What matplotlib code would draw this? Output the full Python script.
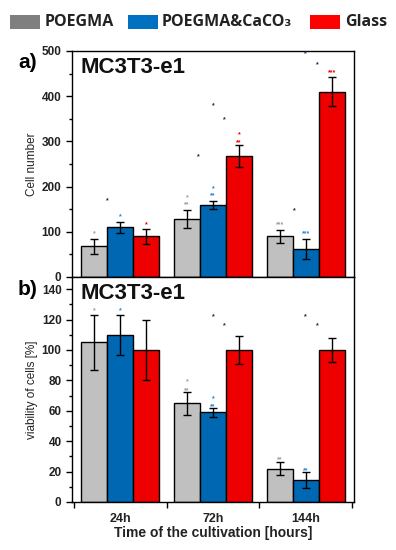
import matplotlib
matplotlib.use("Agg")
import matplotlib.pyplot as plt
from matplotlib.patches import Rectangle
import numpy as np

plt.rcParams["font.family"] = ["Liberation Sans", "DejaVu Sans"]

# ===== 数据 =====
times = ["24h", "72h", "144h"]
series = ["POEGMA", "POEGMA&CaCO₃", "Glass"]

cell_poegma = [68, 128, 90]
cell_poegma_err = [17, 20, 15]
cell_caco3 = [110, 160, 62]
cell_caco3_err = [12, 9, 22]
cell_glass = [90, 267, 410]
cell_glass_err = [17, 24, 32]

via_poegma = [105, 65, 22]
via_poegma_err = [18, 7.5, 4]
via_caco3 = [110, 59, 14.5]
via_caco3_err = [13, 3, 5.5]
via_glass = [100, 100, 100]
via_glass_err = [20, 9, 8]

# 显著性标记: (组, 相对柱宽偏移, y, 文本, 颜色键)
cell_marks = [
    (0, -1, 95, "*", "g"), (0, -0.5, 168, "*", "k"), (0, 0, 133, "*", "b"), (0, 1, 116, "*", "r"),
    (1, -1, 175, "*", "g"), (1, -1, 159, "**", "g"), (1, -0.55, 266, "*", "k"),
    (1, 0, 195, "*", "b"), (1, 0, 179, "**", "b"), (1, 0, 378, "*", "k"), (1, 0.45, 348, "*", "k"),
    (1, 1, 315, "*", "r"), (1, 1, 298, "**", "r"),
    (2, -1, 116, "***", "g"), (2, -0.45, 146, "*", "k"), (2, 0, 95, "***", "b"),
    (2, 0, 494, "*", "k"), (2, 0.45, 470, "*", "k"), (2, 1, 452, "***", "r"),
]
via_marks = [
    (0, -1, 126, "*", "g"), (0, 0, 126, "*", "b"),
    (1, 0, 122, "*", "k"), (1, 0.45, 116, "*", "k"),
    (1, -1, 79, "*", "g"), (1, -1, 73, "**", "g"), (1, 0, 68, "*", "b"), (1, 0, 62.5, "**", "b"),
    (2, 0, 122, "*", "k"), (2, 0.45, 116, "*", "k"),
    (2, -1, 27.5, "**", "g"), (2, 0, 20.5, "**", "b"),
]

BAR_COLORS = ["#c0c0c0", "#0068b2", "#ee0000"]
LEGEND_COLORS = ["#7f7f7f", "#0070c0", "#ff0000"]
MARK_COLORS = {"g": "#9a9a9a", "b": "#2a80d0", "r": "#ee0000", "k": "#1a2a4a"}
TEXT = "#222222"
W = 0.28

FW, FH = 396, 550
fig = plt.figure(figsize=(FW / 100, FH / 100), dpi=100)
ax1 = fig.add_axes([0.1818, 0.4964, 0.712, 0.411])
ax2 = fig.add_axes([0.1818, 0.0873, 0.712, 0.409])

x = np.arange(1, len(times) + 1)


def draw(ax, vals, errs, marks, ylim, yticks, yminor, ylabel):
    for i, (v, e) in enumerate(zip(vals, errs)):
        ax.bar(x + (i - 1) * W, v, width=W, color=BAR_COLORS[i], edgecolor="black",
               linewidth=1.0, zorder=2)
        ax.errorbar(x + (i - 1) * W, v, yerr=e, fmt="none", ecolor="black",
                    elinewidth=1.0, capsize=3, capthick=1.0, zorder=3)
    for g, off, y, txt, c in marks:
        ax.text(x[g] + off * W, y, txt, ha="center", va="center", fontsize=5,
                color=MARK_COLORS[c], fontweight="bold")
    ax.set_xlim(0.48, 3.52)
    ax.set_ylim(*ylim)
    ax.set_yticks(yticks)
    ax.set_yticks(yminor, minor=True)
    ax.set_xticks([0.5, 1.5, 2.5, 3.5])
    ax.set_xticklabels([])
    ax.set_xticks(x, minor=True)
    ax.tick_params(axis="y", which="major", direction="out", length=4, width=1,
                   labelsize=8.5, labelcolor=TEXT)
    ax.tick_params(axis="y", which="minor", direction="out", length=2.5, width=1)
    ax.tick_params(axis="x", which="major", direction="out", length=4, width=1)
    ax.tick_params(axis="x", which="minor", length=0)
    for lab in ax.get_yticklabels():
        lab.set_fontweight("bold")
    for s in ax.spines.values():
        s.set_linewidth(1.0)
    ax.set_ylabel(ylabel, fontsize=8.5, color=TEXT, labelpad=3)
    ax.text(0.03, 0.975, "MC3T3-e1", transform=ax.transAxes, ha="left", va="top",
            fontsize=16, fontweight="bold", color="#111111")


draw(ax1, [cell_poegma, cell_caco3, cell_glass],
     [cell_poegma_err, cell_caco3_err, cell_glass_err], cell_marks,
     (0, 500), np.arange(0, 501, 100), np.arange(0, 501, 50), "Cell number")
draw(ax2, [via_poegma, via_caco3, via_glass],
     [via_poegma_err, via_caco3_err, via_glass_err], via_marks,
     (0, 148), np.arange(0, 141, 20), np.arange(0, 141, 10), "viability of cells [%]")

ax2.set_xticklabels(times, minor=True, fontsize=9, fontweight="bold", color=TEXT)
ax2.tick_params(axis="x", which="minor", pad=8)
ax2.set_xlabel("Time of the cultivation [hours]", fontsize=10, fontweight="bold",
               color=TEXT, labelpad=1)

fig.text(0.07, 0.887, "a)", fontsize=15, fontweight="bold", ha="center", va="center")
fig.text(0.07, 0.473, "b)", fontsize=15, fontweight="bold", ha="center", va="center")

# 图例：手动放置色块和文字
patch_x = [10, 128, 310]
text_x = [45, 162, 345]
for px, tx, c, name in zip(patch_x, text_x, LEGEND_COLORS, series):
    fig.patches.append(Rectangle((px / FW, 1 - 29 / FH), 30 / FW, 14 / FH,
                                 transform=fig.transFigure, facecolor=c, edgecolor="none"))
    fig.text(tx / FW, 1 - 22 / FH, name, ha="left", va="center", fontsize=11.5,
             fontweight="bold", color="#222222", family=["Open Sans", "DejaVu Sans"])

fig.savefig("out.png", dpi=100)
